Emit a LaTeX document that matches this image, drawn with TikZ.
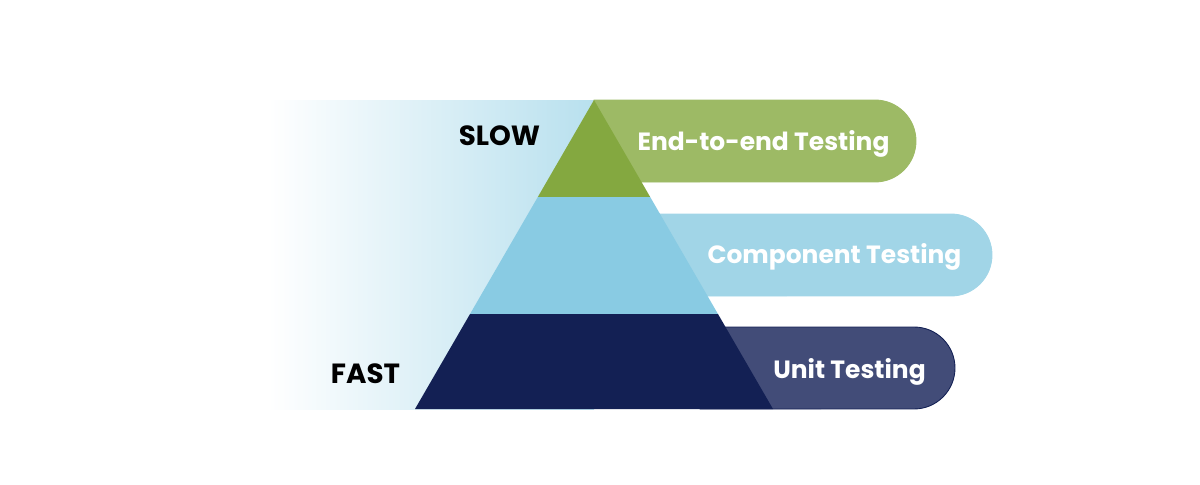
\documentclass[tikz,border=0pt]{standalone}
\usepackage{fontspec}
\setmainfont{Poppins}
\usetikzlibrary{positioning}

\definecolor{fadeblue}{HTML}{B8E0EE}
\definecolor{e2edark}{HTML}{84A840}
\definecolor{e2elight}{HTML}{9DBA65}
\definecolor{compdark}{HTML}{89CBE3}
\definecolor{complight}{HTML}{A1D5E7}
\definecolor{unitdark}{HTML}{132054}
\definecolor{unitlight}{HTML}{424C78}

\begin{document}
\begin{tikzpicture}[x=0.02cm, y=-0.02cm,
      tier label/.style = {text=white, anchor=base, inner sep=0pt,
                           font=\bfseries\fontsize{14.2}{17}\selectfont},
           speed/.style = {text=black, anchor=base, inner sep=0pt,
                           font=\bfseries\fontsize{15.8}{19}\selectfont}
                    ]
\useasboundingbox (0,0) rectangle (1200,484);
% Corners of the pyramid
\coordinate (apex) at (594,100);
\coordinate (base-l) at (415,409);
\coordinate (base-r) at (773,409);
% Draw the fading background on the left
\shade[left color=white, right color=fadeblue] (268,100) rectangle (594,409);
% Draw the bars behind the pyramid
\foreach \ytop/\xleft/\xright/\clr/\edge in {100/594/916/e2elight/e2elight,
                                              214/640/992/complight/complight,
                                              327/700/955/unitlight/unitdark}
    \filldraw[fill=\clr, draw=\edge, line width=0.5pt]
        (\xleft,\ytop) -- (\xright-41,\ytop)
        arc[start angle=90, end angle=-90, radius=0.82cm]
        -- (\xleft,\ytop+82) -- cycle;
% Draw the pyramid tiers
\begin{scope}
    \clip (apex) -- (base-l) -- (base-r) -- cycle;
    \fill[e2edark]  (400,100) rectangle (800,197);
    \fill[compdark] (400,197) rectangle (800,314);
    \fill[unitdark] (400,314) rectangle (800,410);
\end{scope}
% Speed labels
\node[speed] (slow) at (499.5,145) {SLOW};
\node[speed] (fast) at (365.5,383) {FAST};
% Bar labels
\node[tier label] (e2e-label)  at (763.5,150) {End-to-end Testing};
\node[tier label] (comp-label) at (834.5,263) {Component Testing};
\node[tier label] (unit-label) at (849.5,378) {Unit Testing};
\end{tikzpicture}
\end{document}
